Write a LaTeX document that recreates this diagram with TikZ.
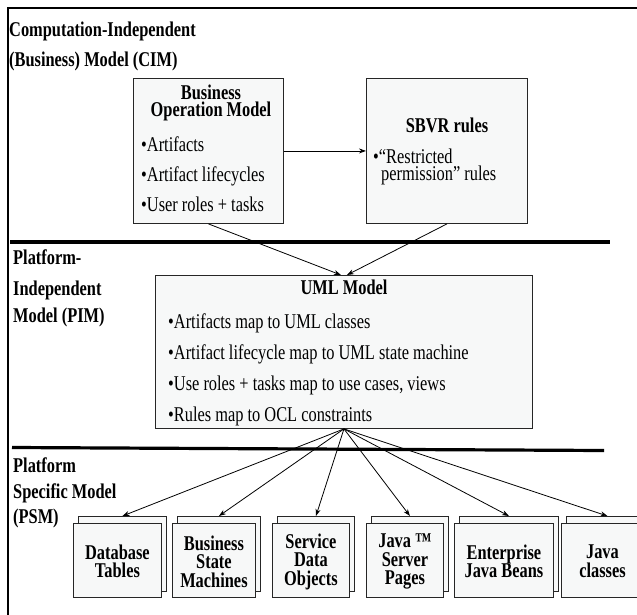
\documentclass[tikz,border=0pt]{standalone}
\usepackage{fontspec}
\setmainfont{Liberation Serif}[FakeStretch=0.78]
\usetikzlibrary{arrows.meta,calc}
\definecolor{boxfill}{HTML}{F7F8F8}
\tikzset{
  box/.style={draw=black!85, line width=0.9pt, fill=boxfill, inner sep=0pt, anchor=north west},
  txt/.style={inner sep=0pt, font=\fontsize{21}{24}\selectfont},
  btxt/.style={inner sep=0pt, font=\fontsize{21}{24}\selectfont\bfseries},
  psmtxt/.style={inner sep=0pt, align=center, font=\fontsize{21}{18.5}\selectfont\bfseries},
  arr/.style={line width=0.8pt, -{Stealth[length=7pt,width=5pt]}},
  sep/.style={line width=3.2pt},
  frame/.style={line width=2pt}
}
\begin{document}
\begin{tikzpicture}[x=1pt,y=-1pt]
\useasboundingbox (0,0) rectangle (637,615);
\clip (0,0) rectangle (637,615);
% frame
\coordinate (ftl) at (8,8);
\coordinate (ftr) at (637,8);
\coordinate (fbl) at (8,615);
\draw[frame] (fbl) -- (ftl) -- (ftr);
% separators
\coordinate (s1a) at (10,242);
\coordinate (s1b) at (610,242);
\coordinate (s2a) at (12,447.5);
\coordinate (s2b) at (604,450.5);
\draw[sep] (s1a) -- (s1b);
\draw[sep] (s2a) -- (s2b);
% layer labels
\node[btxt, anchor=base west] (cim1) at (9,37) {Computation-Independent};
\node[btxt, anchor=base west] (cim2) at (9,67) {(Business) Model (CIM)};
\node[btxt, anchor=base west] (pim1) at (13,264) {Platform-};
\node[btxt, anchor=base west] (pim2) at (13,295) {Independent};
\node[btxt, anchor=base west] (pim3) at (13,322) {Model (PIM)};
\node[btxt, anchor=base west] (psm1) at (13,472) {Platform};
\node[btxt, anchor=base west] (psm2) at (13,498) {Specific Model};
\node[btxt, anchor=base west] (psm3) at (13,523) {(PSM)};
% Business Operation Model
\node[box, minimum width=150pt, minimum height=145pt] (bom) at (133,78) {};
\node[btxt, align=center, font=\fontsize{21}{17}\selectfont\bfseries, anchor=base] (bomt) at (211,117) {Business\\Operation Model};
\node[txt, anchor=base west] (bomb1) at (141,151) {•Artifacts};
\node[txt, anchor=base west] (bomb2) at (141,181) {•Artifact lifecycles};
\node[txt, anchor=base west] (bomb3) at (141,211) {•User roles + tasks};
% SBVR
\node[box, minimum width=161pt, minimum height=145pt] (sbvr) at (366,78) {};
\node[btxt, anchor=base] (sbvrt) at (447,132) {SBVR rules};
\node[txt, align=left, font=\fontsize{21}{17}\selectfont, anchor=base west] (sbvrb) at (373,180) {•“Restricted\\\hspace*{8pt}permission” rules};
% UML
\node[box, minimum width=377pt, minimum height=153pt] (uml) at (155,275) {};
\node[btxt, anchor=base] (umlt) at (344,294) {UML Model};
\node[txt, anchor=base west] (umlb1) at (168,328) {•Artifacts map to UML classes};
\node[txt, anchor=base west] (umlb2) at (168,359) {•Artifact lifecycle map to UML state machine};
\node[txt, anchor=base west] (umlb3) at (168,390) {•Use roles + tasks map to use cases, views};
\node[txt, anchor=base west] (umlb4) at (168,421) {•Rules map to OCL constraints};
% CIM connectors
\draw[arr] (bom.east) -- (sbvr.west);
\draw[arr] (bom.south) -- ($(uml.north)+(-3,0)$);
\draw[arr] (sbvr.south) -- ($(uml.north)+(3,0)$);
% PSM boxes
\foreach \n/\xa/\xb/\t in {
  p1/73/161/{Database\\Tables},
  p2/172/255/{Business\\State\\Machines},
  p3/272/349/{Service\\Data\\Objects},
  p4/366/443/{Java ™\\Server\\Pages},
  p5/454/553/{Enterprise\\Java Beans},
  p6/561/643/{Java\\classes}}{
  \pgfmathsetmacro{\w}{\xb-\xa}
  \node[box, minimum width=\w pt, minimum height=75pt] (\n back) at (\xa+5,516) {};
  \node[box, minimum width=\w pt, minimum height=74pt] (\n) at (\xa,523) {};
  \node[psmtxt] (\n txt) at ($(\n.center)+(0,1)$) {\t};
  \draw[arr] (uml.south) -- (\n back.north);
}
\end{tikzpicture}
\end{document}
